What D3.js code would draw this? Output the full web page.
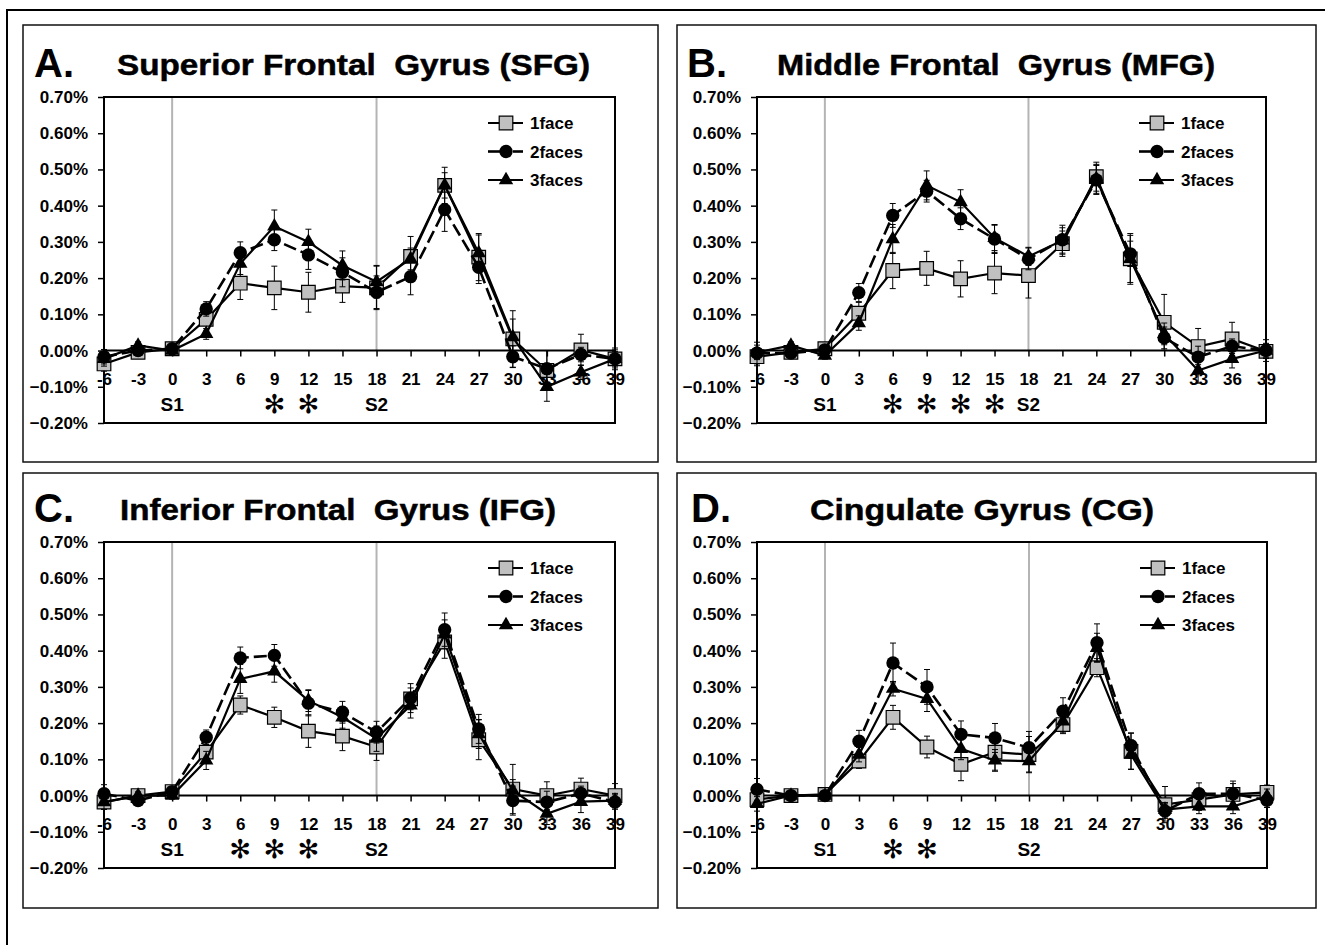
<!DOCTYPE html>
<html>
<head>
<meta charset="utf-8">
<script src="https://cdn.jsdelivr.net/npm/d3@7"></script>
<style>
  body { margin: 0; background: #fff; }
  text { font-family: "Liberation Sans", Arial, sans-serif; font-weight: bold; fill: #000; }
</style>
</head>
<body>
<svg id="fig" width="1325" height="945"></svg>
<script>
// time points (s) and axis ticks
var times = [-6, -3, 0, 3, 6, 9, 12, 15, 18, 21, 24, 27, 30, 33, 36, 39];
var yTicks = [-0.2, -0.1, 0, 0.1, 0.2, 0.3, 0.4, 0.5, 0.6, 0.7];
var seriesNames = ["1face", "2faces", "3faces"];

// A. SFG
var sfg1 = [-0.037, -0.005, 0.005, 0.086, 0.186, 0.173, 0.161, 0.178, 0.173, 0.26, 0.456, 0.258, 0.032, -0.055, 0.002, -0.023];
var sfg1Err = [0.02, 0.01, 0.01, 0.03, 0.045, 0.06, 0.055, 0.045, 0.06, 0.055, 0.05, 0.065, 0.078, 0.055, 0.043, 0.025];
var sfg2 = [-0.017, 0, 0.005, 0.115, 0.27, 0.306, 0.264, 0.216, 0.161, 0.204, 0.389, 0.23, -0.017, -0.05, -0.011, -0.023];
var sfg2Err = [0.02, 0.01, 0.01, 0.02, 0.03, 0.03, 0.04, 0.04, 0.045, 0.05, 0.06, 0.045, 0.03, 0.05, 0.02, 0.02];
var sfg3 = [-0.023, 0.014, 0, 0.046, 0.24, 0.343, 0.30, 0.235, 0.19, 0.253, 0.456, 0.269, 0.037, -0.10, -0.06, -0.023];
var sfg3Err = [0.02, 0.01, 0.01, 0.015, 0.03, 0.045, 0.035, 0.04, 0.045, 0.03, 0.035, 0.05, 0.05, 0.04, 0.02, 0.03];

// B. MFG
var mfg1 = [-0.017, -0.005, 0.005, 0.103, 0.221, 0.227, 0.198, 0.214, 0.207, 0.295, 0.48, 0.253, 0.078, 0.011, 0.032, -0.002];
var mfg1Err = [0.025, 0.01, 0.01, 0.03, 0.05, 0.047, 0.05, 0.057, 0.062, 0.035, 0.04, 0.065, 0.077, 0.05, 0.046, 0.02];
var mfg2 = [-0.007, -0.007, 0.002, 0.16, 0.373, 0.44, 0.364, 0.308, 0.253, 0.306, 0.471, 0.267, 0.035, -0.018, 0.012, 0];
var mfg2Err = [0.03, 0.01, 0.01, 0.025, 0.033, 0.03, 0.03, 0.04, 0.03, 0.04, 0.04, 0.035, 0.03, 0.03, 0.02, 0.03];
var mfg3 = [-0.005, 0.014, -0.014, 0.076, 0.308, 0.456, 0.41, 0.311, 0.26, 0.304, 0.474, 0.253, 0.046, -0.055, -0.023, 0];
var mfg3Err = [0.02, 0.01, 0.01, 0.02, 0.04, 0.04, 0.034, 0.035, 0.025, 0.035, 0.04, 0.07, 0.03, 0.035, 0.025, 0.02];

// C. IFG
var ifg1 = [-0.018, 0, 0.011, 0.12, 0.25, 0.216, 0.178, 0.164, 0.134, 0.267, 0.424, 0.154, 0.018, 0, 0.018, 0];
var ifg1Err = [0.02, 0.01, 0.01, 0.02, 0.025, 0.028, 0.045, 0.04, 0.037, 0.03, 0.045, 0.055, 0.068, 0.038, 0.03, 0.033];
var ifg2 = [0.005, -0.014, 0.011, 0.161, 0.38, 0.387, 0.255, 0.23, 0.175, 0.269, 0.458, 0.184, -0.014, -0.018, 0.006, -0.018];
var ifg2Err = [0.025, 0.01, 0.01, 0.02, 0.03, 0.03, 0.035, 0.03, 0.03, 0.04, 0.046, 0.04, 0.04, 0.03, 0.02, 0.02];
var ifg3 = [-0.018, 0, 0, 0.097, 0.322, 0.343, 0.262, 0.216, 0.157, 0.249, 0.445, 0.17, 0.014, -0.05, -0.017, -0.014];
var ifg3Err = [0.02, 0.01, 0.01, 0.025, 0.04, 0.03, 0.03, 0.03, 0.035, 0.035, 0.04, 0.04, 0.03, 0.03, 0.03, 0.02];

// D. CG
var cg1 = [-0.011, 0, 0.003, 0.095, 0.216, 0.134, 0.086, 0.12, 0.113, 0.196, 0.353, 0.122, -0.025, -0.011, 0.003, 0.009];
var cg1Err = [0.02, 0.01, 0.01, 0.02, 0.033, 0.03, 0.045, 0.05, 0.05, 0.025, 0.025, 0.05, 0.05, 0.03, 0.03, 0.02];
var cg2 = [0.017, 0, 0, 0.15, 0.366, 0.30, 0.169, 0.159, 0.132, 0.233, 0.422, 0.138, -0.043, 0.005, 0.005, -0.013];
var cg2Err = [0.03, 0.01, 0.01, 0.03, 0.055, 0.048, 0.037, 0.04, 0.045, 0.037, 0.052, 0.035, 0.02, 0.03, 0.035, 0.02];
var cg3 = [-0.023, 0, 0, 0.113, 0.295, 0.267, 0.129, 0.097, 0.095, 0.205, 0.408, 0.113, -0.039, -0.03, -0.03, -0.002];
var cg3Err = [0.02, 0.01, 0.01, 0.02, 0.02, 0.035, 0.03, 0.03, 0.03, 0.03, 0.04, 0.04, 0.02, 0.02, 0.02, 0.02];

var panels = [
  { letter: "A.", title: "Superior Frontal  Gyrus (SFG)", vals: [sfg1, sfg2, sfg3], errs: [sfg1Err, sfg2Err, sfg3Err], stars: [9, 12],
    box: [23, 25, 658, 462], plot: [104, 97, 615, 423], letterX: 34, titleX: 117, titleW: 473 },
  { letter: "B.", title: "Middle Frontal  Gyrus (MFG)", vals: [mfg1, mfg2, mfg3], errs: [mfg1Err, mfg2Err, mfg3Err], stars: [6, 9, 12, 15],
    box: [677, 25, 1316, 462], plot: [757, 97, 1266, 423], letterX: 687, titleX: 777, titleW: 438 },
  { letter: "C.", title: "Inferior Frontal  Gyrus (IFG)", vals: [ifg1, ifg2, ifg3], errs: [ifg1Err, ifg2Err, ifg3Err], stars: [6, 9, 12],
    box: [23, 473, 658, 908], plot: [104, 542, 615, 868], letterX: 34, titleX: 120, titleW: 436 },
  { letter: "D.", title: "Cingulate Gyrus (CG)", vals: [cg1, cg2, cg3], errs: [cg1Err, cg2Err, cg3Err], stars: [6, 9],
    box: [677, 473, 1316, 908], plot: [757, 542, 1267, 868], letterX: 691, titleX: 810, titleW: 344 }
];

var svg = d3.select("#fig");

// figure border (cut off at right/bottom)
svg.append("path").attr("d", "M7,945V10H1325").attr("fill", "none").attr("stroke", "#000").attr("stroke-width", 2);

var symbols = [d3.symbolSquare, d3.symbolCircle, d3.symbolTriangle];
var symSize = [185, 140, 90];
var fills = ["#c0c0c0", "#000", "#000"];

panels.forEach(drawPanel);

function drawPanel(p) {
  var g = svg.append("g");
  var x = d3.scalePoint().domain(times).range([p.plot[0], p.plot[2]]);
  var y = d3.scaleLinear().domain([-0.2, 0.7]).range([p.plot[3], p.plot[1]]);

  g.append("rect").attr("x", p.box[0]).attr("y", p.box[1])
    .attr("width", p.box[2] - p.box[0]).attr("height", p.box[3] - p.box[1])
    .attr("fill", "none").attr("stroke", "#111").attr("stroke-width", 1.5);

  g.append("text").attr("x", p.letterX).attr("y", p.plot[1] - 20)
    .style("font-size", "40px").text(p.letter);
  g.append("text").attr("x", p.titleX).attr("y", p.plot[1] - 22)
    .style("font-size", "30px").style("white-space", "pre")
    .attr("stroke", "#000").attr("stroke-width", 0.5)
    .attr("textLength", p.titleW).attr("lengthAdjust", "spacingAndGlyphs")
    .text(p.title);

  // stimulus onset lines
  [0, 18].forEach(function (t) {
    g.append("line").attr("x1", x(t)).attr("x2", x(t))
      .attr("y1", p.plot[1]).attr("y2", y(0))
      .attr("stroke", "#b4b4b4").attr("stroke-width", 2);
  });

  // y axis
  var yAxis = d3.axisLeft(y).tickValues(yTicks).tickSize(6).tickPadding(10)
    .tickFormat(function (d) { return d3.format(".2f")(d) + "%"; });
  var ya = g.append("g").attr("transform", "translate(" + p.plot[0] + ",0)").call(yAxis);
  ya.select(".domain").remove();
  ya.selectAll("line").attr("stroke", "#000").attr("stroke-width", 1.5);
  ya.selectAll("text").style("font-size", "17px").style("font-family", null);

  // x axis through zero
  var xAxis = d3.axisBottom(x).tickSize(6).tickPadding(16);
  var xa = g.append("g").attr("transform", "translate(0," + y(0) + ")").call(xAxis);
  xa.select(".domain").remove();
  xa.selectAll("line").attr("stroke", "#000").attr("stroke-width", 1.5);
  xa.selectAll("text").style("font-size", "17px").style("font-family", null);
  g.append("line").attr("x1", p.plot[0]).attr("x2", p.plot[2]).attr("y1", y(0)).attr("y2", y(0))
    .attr("stroke", "#000").attr("stroke-width", 2);

  // plot frame
  g.append("rect").attr("x", p.plot[0]).attr("y", p.plot[1])
    .attr("width", p.plot[2] - p.plot[0]).attr("height", p.plot[3] - p.plot[1])
    .attr("fill", "none").attr("stroke", "#000").attr("stroke-width", 2);

  // S1 / S2 and significance markers
  var labY = p.plot[1] + 314;
  g.append("text").attr("x", x(0)).attr("y", labY).attr("text-anchor", "middle").style("font-size", "19px").text("S1");
  g.append("text").attr("x", x(18)).attr("y", labY).attr("text-anchor", "middle").style("font-size", "19px").text("S2");
  p.stars.forEach(function (t) {
    g.append("text").attr("x", x(t)).attr("y", labY + 2).attr("text-anchor", "middle")
      .style("font-family", "'DejaVu Sans', sans-serif").style("font-weight", "normal")
      .style("font-size", "26px").text("\u273B");
  });

  // series
  var line = d3.line().x(function (d) { return x(d.t); }).y(function (d) { return y(d.v); });
  p.vals.forEach(function (vals, si) {
    var pts = times.map(function (t, i) { return { t: t, v: vals[i], e: p.errs[si][i] }; });
    var sg = g.append("g");
    sg.selectAll(".eb").data(pts).enter().append("path").attr("class", "eb")
      .attr("d", function (d) {
        var cx = x(d.t), y1 = y(d.v + d.e), y2 = y(d.v - d.e);
        return "M" + cx + "," + y1 + "V" + y2 + "M" + (cx - 3) + "," + y1 + "h6M" + (cx - 3) + "," + y2 + "h6";
      })
      .attr("stroke", "#000").attr("stroke-width", 1).attr("fill", "none");
    sg.append("path").datum(pts).attr("d", line).attr("fill", "none")
      .attr("stroke", "#000").attr("stroke-width", si === 1 ? 2.6 : 2.2)
      .attr("stroke-dasharray", si === 1 ? "13,5" : null);
    sg.selectAll(".mk").data(pts).enter().append("path").attr("class", "mk")
      .attr("transform", function (d) { return "translate(" + x(d.t) + "," + y(d.v) + ")"; })
      .attr("d", d3.symbol().type(symbols[si]).size(symSize[si]))
      .attr("fill", fills[si]).attr("stroke", "#000").attr("stroke-width", si === 0 ? 1.2 : 0);
  });

  // legend
  var lx = p.plot[2] - 127;
  seriesNames.forEach(function (name, si) {
    var ly = p.plot[1] + 26 + si * 28.5;
    if (si === 1) {
      g.append("line").attr("x1", lx).attr("x2", lx + 13).attr("y1", ly).attr("y2", ly).attr("stroke", "#000").attr("stroke-width", 2.6);
      g.append("line").attr("x1", lx + 25).attr("x2", lx + 35).attr("y1", ly).attr("y2", ly).attr("stroke", "#000").attr("stroke-width", 2.6);
    } else {
      g.append("line").attr("x1", lx).attr("x2", lx + 35).attr("y1", ly).attr("y2", ly).attr("stroke", "#000").attr("stroke-width", 2.2);
    }
    g.append("path").attr("transform", "translate(" + (lx + 18) + "," + ly + ")")
      .attr("d", d3.symbol().type(symbols[si]).size(symSize[si]))
      .attr("fill", fills[si]).attr("stroke", "#000").attr("stroke-width", si === 0 ? 1.2 : 0);
    g.append("text").attr("x", lx + 42).attr("y", ly).attr("dy", "0.36em").style("font-size", "17px").text(name);
  });
}
</script>
</body>
</html>
